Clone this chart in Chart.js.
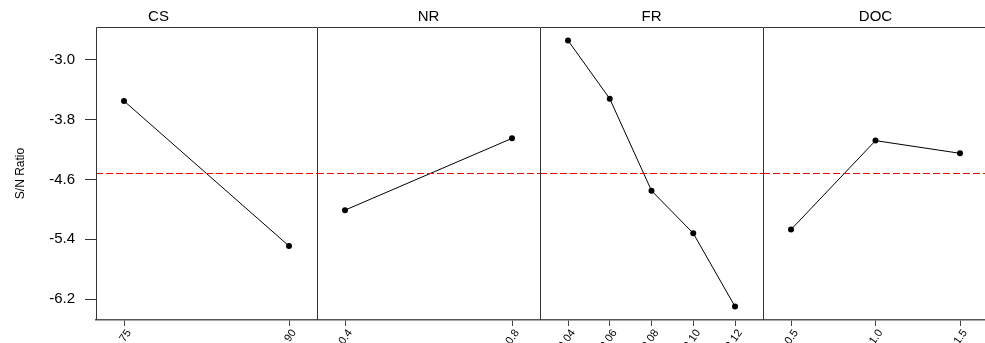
<!DOCTYPE html>
<html>
<head>
<meta charset="utf-8">
<script src="https://cdn.jsdelivr.net/npm/chart.js@4"></script>
<style>
  body { margin: 0; background: #fff; overflow: hidden; }
  .panel { position: absolute; top: 0; height: 343px; }
</style>
</head>
<body>
<div class="panel" style="left:0;width:317px"><canvas id="c0"></canvas></div>
<div class="panel" style="left:317px;width:223px"><canvas id="c1"></canvas></div>
<div class="panel" style="left:540px;width:223px"><canvas id="c2"></canvas></div>
<div class="panel" style="left:763px;width:225px"><canvas id="c3"></canvas></div>
<script>
// niveles de cada factor y su S/N medio
const csLevels = ['75', '90'];
const csSN = [-3.55, -5.49];
const nrLevels = ['0.4', '0.8'];
const nrSN = [-5.01, -4.05];
const frLevels = ['0.04', '0.06', '0.08', '0.10', '0.12'];
const frSN = [-2.74, -3.52, -4.75, -5.32, -6.30];
const docLevels = ['0.5', '1.0', '1.5'];
const docSN = [-5.27, -4.08, -4.25];

const meanSN = -4.52;
const yTicks = [-3.0, -3.8, -4.6, -5.4, -6.2];
const yMin = -6.48;
const yMax = -2.56;

Chart.defaults.font.family = 'Arial, "Liberation Sans", sans-serif';
Chart.defaults.color = '#000';

// marco del panel y línea roja de la media
const framePlugin = {
  id: 'frame',
  afterDatasetsDraw(chart) {
    const { ctx, chartArea: a, scales } = chart;
    const y = Math.round(scales.y.getPixelForValue(meanSN)) + 0.5;
    ctx.save();
    ctx.lineWidth = 1;
    ctx.strokeStyle = 'rgb(255, 0, 0)';
    ctx.setLineDash([7, 3]);
    ctx.beginPath();
    ctx.moveTo(a.left, y);
    ctx.lineTo(a.right, y);
    ctx.stroke();
    ctx.setLineDash([]);
    ctx.strokeStyle = '#333';
    ctx.beginPath();
    ctx.moveTo(a.left + 0.5, a.bottom);
    ctx.lineTo(a.left + 0.5, a.top + 0.5);
    ctx.lineTo(a.right, a.top + 0.5);
    ctx.stroke();
    ctx.restore();
  }
};

const panels = [
  { id: 'c0', name: 'CS', levels: csLevels, values: csSN, width: 221, showY: true },
  { id: 'c1', name: 'NR', levels: nrLevels, values: nrSN, width: 223, showY: false },
  { id: 'c2', name: 'FR', levels: frLevels, values: frSN, width: 223, showY: false },
  { id: 'c3', name: 'DOC', levels: docLevels, values: docSN, width: 225, showY: false }
];

const edge = 28; // separación en px del primer/último punto al borde

panels.forEach(p => {
  const n = p.levels.length;
  const span = (edge / (p.width - 2 * edge)) * (n - 1);
  new Chart(document.getElementById(p.id), {
    type: 'line',
    data: {
      datasets: [{
        data: p.values.map((v, i) => ({ x: i, y: v })),
        borderColor: '#000',
        borderWidth: 1,
        backgroundColor: '#000',
        pointRadius: 3,
        pointBackgroundColor: '#000',
        pointBorderWidth: 0,
        tension: 0
      }]
    },
    options: {
      responsive: true,
      maintainAspectRatio: false,
      animation: false,
      layout: { padding: 0, autoPadding: false },
      plugins: {
        legend: { display: false },
        tooltip: { enabled: false },
        title: {
          display: true,
          text: p.name,
          font: { size: 15, weight: 'normal' },
          color: '#000',
          padding: { top: 8, bottom: 1 }
        }
      },
      scales: {
        x: {
          type: 'linear',
          min: -span,
          max: n - 1 + span,
          afterBuildTicks: s => { s.ticks = p.levels.map((_, i) => ({ value: i })); },
          afterFit: s => { s.height = 23; s.paddingLeft = 0; s.paddingRight = 0; },
          grid: { drawOnChartArea: false, tickLength: 6, color: '#444' },
          border: { color: '#555', width: 1.5 },
          ticks: {
            autoSkip: false,
            minRotation: 55,
            maxRotation: 55,
            padding: 1,
            labelOffset: 5,
            font: { size: 11 },
            color: '#000',
            callback: v => p.levels[v]
          }
        },
        y: {
          display: p.showY,
          min: yMin,
          max: yMax,
          afterBuildTicks: s => { s.ticks = yTicks.map(v => ({ value: v })); },
          afterFit: s => { if (p.showY) s.width = 96; },
          grid: { drawOnChartArea: false, tickLength: 11, color: '#333' },
          border: { display: false },
          ticks: { padding: 10, font: { size: 15 }, color: '#000', callback: v => v.toFixed(1) },
          title: {
            display: true,
            text: 'S/N Ratio',
            font: { size: 12 },
            color: '#000',
            padding: { top: 13, bottom: 0 }
          }
        }
      }
    },
    plugins: [framePlugin]
  });
});
</script>
</body>
</html>
